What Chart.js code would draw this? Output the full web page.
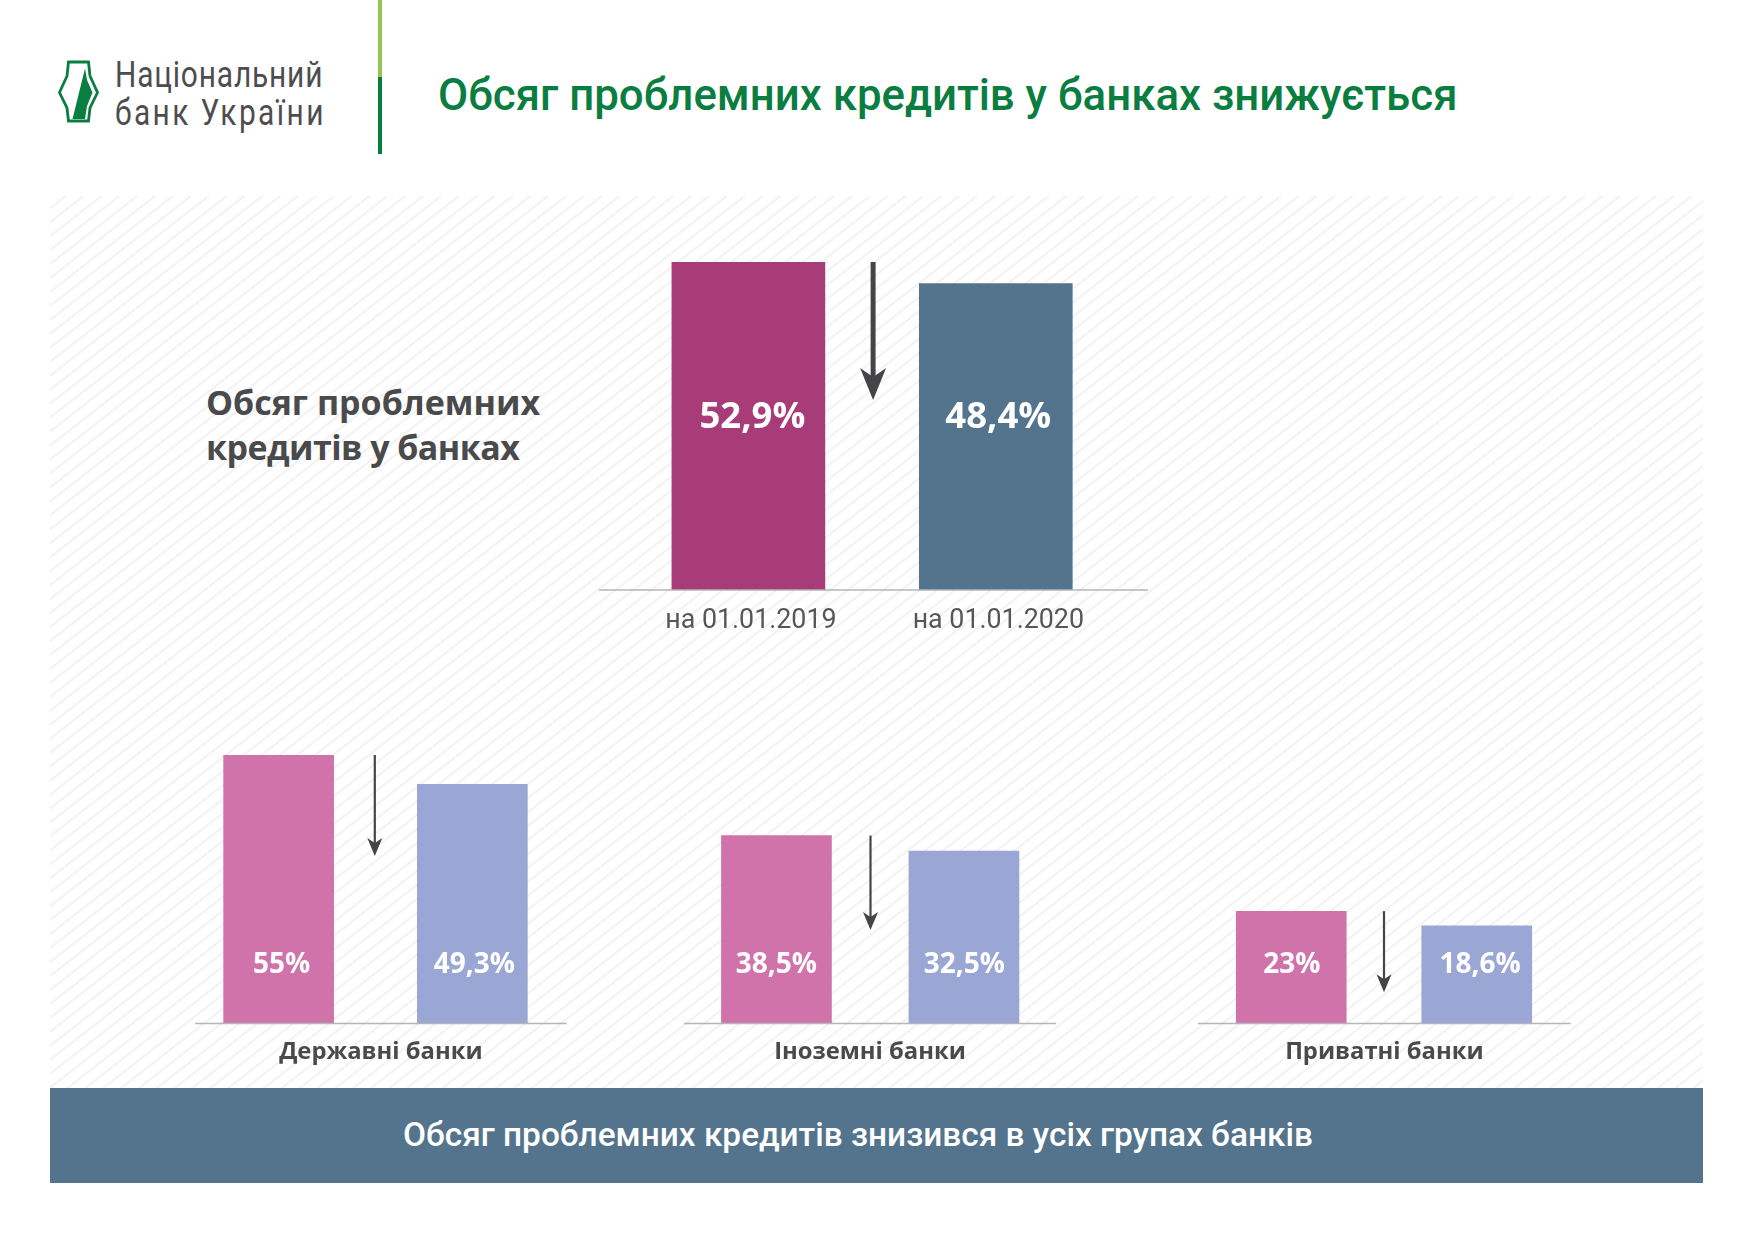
<!DOCTYPE html>
<html lang="uk">
<head>
<meta charset="utf-8">
<title>Обсяг проблемних кредитів у банках знижується</title>
<script src="https://cdn.jsdelivr.net/npm/chart.js@4"></script>
<style>
  html, body { margin: 0; padding: 0; background: #fff; }
  body { position: relative; width: 1754px; height: 1241px; overflow: hidden; font-family: Roboto, sans-serif; }
  .abs { position: absolute; white-space: nowrap; }
  canvas { position: absolute; }
  #panel {
    left: 50px; top: 196px; width: 1653px; height: 892px;
    background: repeating-linear-gradient(142deg, #fff 0, #fff 8.4px, #f2f2f2 9px, #f2f2f2 10.4px, #fff 11px);
  }
  #barLight { left: 378px; top: 0; width: 4px; height: 77px; background: #96c450; }
  #barDark { left: 378px; top: 77px; width: 4px; height: 77px; background: #0a7d40; }
  #logoText { left: 115px; top: 56px; color: #4d4d4f; font-size: 36px; line-height: 38px; transform-origin: 0 0; transform: scaleX(.83); }
  #logoText span { letter-spacing: 1px; }
  #logoText span + br + span { letter-spacing: 2.9px; }
  #title { left: 438px; top: 69px; color: #0a7d40; font-size: 43.8px; font-weight: 500; line-height: 52px; }
  #sideLabel { left: 206px; top: 380px; color: #4a4a4c; font: 700 34px/45px "Open Sans", sans-serif; }
  #sideLabel span { letter-spacing: -0.55px; }
  #footer { left: 50px; top: 1088px; width: 1653px; height: 95px; background: #53748c; }
  #footerText { left: 403px; top: 1111px; color: #fff; font-size: 33.4px; font-weight: 500; line-height: 48px; }
</style>
</head>
<body>
<div class="abs" id="panel"></div>
<div class="abs" id="barLight"></div>
<div class="abs" id="barDark"></div>
<svg class="abs" style="left:50px;top:50px" width="60" height="90" viewBox="50 50 60 90">
  <polygon points="68.5,62 88.5,62 90,76 97.5,92.5 90,108 88.5,121 68.5,121 67,108 59.5,92.5 67,76" fill="#fff" stroke="#0a7d40" stroke-width="2.8"/>
  <polygon points="85,68.5 87,80 92.5,92.5 87,106 85,119 72.5,119" fill="#0a7d40"/>
</svg>
<div class="abs" id="logoText"><span>Національний</span><br><span>банк України</span></div>
<div class="abs" id="title">Обсяг проблемних кредитів у банках знижується</div>
<div class="abs" id="sideLabel">Обсяг проблемних<br><span>кредитів у банках</span></div>
<div class="abs" id="footer"></div>
<div class="abs" id="footerText">Обсяг проблемних кредитів знизився в усіх групах банків</div>

<canvas id="chart-total"></canvas>
<canvas id="chart-state"></canvas>
<canvas id="chart-foreign"></canvas>
<canvas id="chart-private"></canvas>

<script>
// ── Data ─────────────────────────────────────────────
const dates = ['на 01.01.2019', 'на 01.01.2020'];

// bar heights; the printed labels are kept apart
// because some bars are drawn a little taller than their label says
const totalValues = [52.9, 49.4];
const stateValues = [55, 49];
const foreignValues = [38.5, 35.3];
const privateValues = [23, 20];

const totalLabels = ['52,9%', '48,4%'];
const stateLabels = ['55%', '49,3%'];
const foreignLabels = ['38,5%', '32,5%'];
const privateLabels = ['23%', '18,6%'];

const groupNames = ['Державні банки', 'Іноземні банки', 'Приватні банки'];

const COLORS = {
  total: ['#a83c78', '#53748c'],
  group: ['#d073aa', '#9aa6d4'],
  axis: '#b4b5b8',
  arrow: '#454547',
  text: '#4a4a4c',
  tick: '#565658',
};

// ── Annotations: baseline, arrow, value labels, group name ───
const decor = {
  id: 'decor',
  afterDatasetsDraw(chart, args, o) {
    const { ctx } = chart;
    const meta = chart.getDatasetMeta(0);
    const base = chart.scales.y.getPixelForValue(0);
    const top = chart.scales.y.getPixelForValue(chart.data.datasets[0].data[0]);
    const bars = meta.data;

    ctx.save();
    ctx.strokeStyle = COLORS.axis;
    ctx.lineWidth = 1.5;
    ctx.beginPath();
    ctx.moveTo(o.axis[0], base);
    ctx.lineTo(o.axis[1], base);
    ctx.stroke();

    // arrow between the two bars
    const ax = (bars[0].x + bars[1].x) / 2 + o.arrow.dx;
    const tip = top + o.arrow.len;
    ctx.strokeStyle = COLORS.arrow;
    ctx.fillStyle = COLORS.arrow;
    ctx.lineWidth = o.arrow.shaft;
    ctx.beginPath();
    ctx.moveTo(ax, top);
    ctx.lineTo(ax, tip - o.arrow.headL / 2);
    ctx.stroke();
    ctx.beginPath();
    ctx.moveTo(ax, tip);
    ctx.lineTo(ax - o.arrow.headW / 2, tip - o.arrow.headL);
    ctx.lineTo(ax, tip - o.arrow.headL * 0.72);
    ctx.lineTo(ax + o.arrow.headW / 2, tip - o.arrow.headL);
    ctx.closePath();
    ctx.fill();

    ctx.textAlign = 'center';
    ctx.textBaseline = 'middle';
    ctx.fillStyle = '#fff';
    ctx.font = o.valueFont;
    o.labels.forEach((t, i) => ctx.fillText(t, bars[i].x + o.labelDx[i], base - o.labelUp));

    if (o.group) {
      ctx.fillStyle = COLORS.text;
      ctx.font = '700 23.8px "Open Sans", sans-serif';
      ctx.fillText(o.group, (o.axis[0] + o.axis[1]) / 2, base + 28.5);
    }
    ctx.restore();
  },
};

function drawBars(id, box, values, labels, colors, opts) {
  const canvas = document.getElementById(id);
  canvas.width = box.w;
  canvas.height = box.h;
  canvas.style.left = box.x + 'px';
  canvas.style.top = box.y + 'px';
  new Chart(canvas, {
    type: 'bar',
    data: {
      labels: dates,
      datasets: [{ data: values, backgroundColor: colors, barThickness: opts.thickness }],
    },
    options: {
      responsive: false,
      animation: false,
      layout: { padding: { left: box.padL, right: box.padR, top: 0, bottom: 0 } },
      plugins: {
        legend: { display: false },
        tooltip: { enabled: false },
        decor: {
          axis: opts.axis,
          arrow: opts.arrow,
          labels,
          labelUp: opts.labelUp,
          labelDx: opts.labelDx,
          valueFont: opts.valueFont,
          group: opts.group,
        },
      },
      scales: {
        x: {
          grid: { display: false },
          border: { display: false },
          afterFit: s => { s.height = box.bottom; },
          ticks: {
            display: !opts.group,
            maxRotation: 0,
            padding: 7,
            labelOffset: 2.5,
            color: COLORS.tick,
            font: { family: 'Roboto', size: 26.8 },
          },
        },
        y: { display: false, min: 0, max: opts.max },
      },
    },
    plugins: [decor],
  });
}

// ── Charts ───────────────────────────────────────────
const bigArrow = { len: 138, shaft: 5, headW: 26, headL: 32, dx: 1 };
const VALUE_BIG = '700 36.5px "Open Sans", sans-serif';
const VALUE_SMALL = '700 28px "Open Sans", sans-serif';

drawBars('chart-total', { x: 580, y: 262, w: 620, h: 388, padL: 44.7, padR: 80.5, bottom: 60 }, totalValues, totalLabels, COLORS.total, {
  max: 52.9, thickness: 153, axis: [19, 568], arrow: bigArrow,
  labelUp: 172, labelDx: [4, 2.5], valueFont: VALUE_BIG,
});

const groupBox = { y: 755, h: 318, bottom: 49.5 };
drawBars('chart-state', { ...groupBox, x: 160, w: 440, padL: 21.8, padR: 30.8 }, stateValues, stateLabels, COLORS.group, {
  max: 55, thickness: 110, axis: [35, 406.7], group: groupNames[0],
  arrow: { len: 101, shaft: 2.2, headW: 15, headL: 18, dx: -0.7 },
  labelUp: 58, labelDx: [3, 2], valueFont: VALUE_SMALL,
});
drawBars('chart-foreign', { ...groupBox, x: 660, w: 420, padL: 22.7, padR: 22.3 }, foreignValues, foreignLabels, COLORS.group, {
  max: 55, thickness: 110, axis: [24, 396], group: groupNames[1],
  arrow: { len: 94.5, shaft: 2.2, headW: 15, headL: 18, dx: 0.3 },
  labelUp: 58, labelDx: [0, 0.3], valueFont: VALUE_SMALL,
});
drawBars('chart-private', { ...groupBox, x: 1180, w: 410, padL: 18.5, padR: 20.5 }, privateValues, privateLabels, COLORS.group, {
  max: 55, thickness: 110, axis: [18, 390.7], group: groupNames[2],
  arrow: { len: 81, shaft: 2.2, headW: 15, headL: 18, dx: 0 },
  labelUp: 58, labelDx: [0.5, 3.3], valueFont: VALUE_SMALL,
});
</script>
</body>
</html>
